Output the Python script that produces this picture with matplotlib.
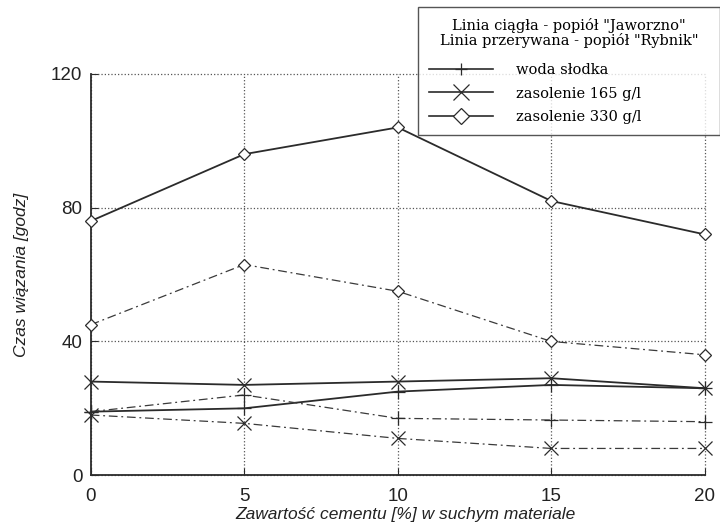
import matplotlib
matplotlib.use('Agg')
import matplotlib.pyplot as plt
from matplotlib.lines import Line2D

# cement content [%] in dry material
cement = [0, 5, 10, 15, 20]

# solid lines - ash "Jaworzno"
jaw_woda = [19, 20, 25, 27, 26]
jaw_165 = [28, 27, 28, 29, 26]
jaw_330 = [76, 96, 104, 82, 72]

# dash-dot lines - ash "Rybnik"
ryb_woda = [19, 24, 17, 16.5, 16]
ryb_165 = [18, 15.5, 11, 8, 8]
ryb_330 = [45, 63, 55, 40, 36]

series_labels = ['woda słodka', 'zasolenie 165 g/l', 'zasolenie 330 g/l']
legend_title = 'Linia ciągła - popiół "Jaworzno"\nLinia przerywana - popiół "Rybnik"'

ink = '#2b2b2b'
dashdot = (0, (7, 3, 1.5, 3))
markers = ['+', 'x', 'D']
msizes = [10, 10, 6.5]

plt.rcParams['font.family'] = ['Liberation Sans', 'DejaVu Sans']

fig = plt.figure(figsize=(7.2, 5.28), dpi=100, facecolor='white')
ax = fig.add_axes([0.126, 0.100, 0.853, 0.760])

solid = [jaw_woda, jaw_165, jaw_330]
dashed = [ryb_woda, ryb_165, ryb_330]
for vals, m, ms in zip(solid, markers, msizes):
    ax.plot(cement, vals, color=ink, lw=1.3, marker=m, ms=ms,
            mfc='white', mec=ink, mew=0.9, clip_on=False, zorder=3)
for vals, m, ms in zip(dashed, markers, msizes):
    ax.plot(cement, vals, color='#3a3a3a', lw=0.9, ls=dashdot, marker=m, ms=ms,
            mfc='white', mec=ink, mew=0.9, clip_on=False, zorder=3)

ax.set_xlim(0, 20)
ax.set_ylim(0, 120)
ax.set_xticks(cement)
ax.set_yticks([0, 40, 80, 120])
ax.grid(True, ls=':', color='#555555', lw=0.9)
for gl in ax.get_xgridlines() + ax.get_ygridlines():
    gl.set_clip_on(False)
ax.set_axisbelow(True)
for s in ['top', 'right']:
    ax.spines[s].set_visible(False)
for s in ['left', 'bottom']:
    ax.spines[s].set_color(ink)
    ax.spines[s].set_linewidth(1.3)
ax.tick_params(direction='in', length=5, color=ink, labelsize=13.5,
               labelcolor='#222222')
ax.tick_params(axis='x', pad=9)
ax.tick_params(axis='y', pad=6)

ax.set_xlabel('Zawartość cementu [%] w suchym materiale', fontsize=12.5,
              style='italic', color='#222222')
ax.xaxis.set_label_coords(0.513, -0.079)
ax.set_ylabel('Czas wiązania [godz]', fontsize=12.5, style='italic',
              color='#222222', labelpad=16)

handles = [Line2D([], [], color=ink, lw=1.2, marker=m, ms=ms, mfc='white',
                  mec=ink, mew=0.9) for m, ms in zip(markers, [9, 11, 8])]
leg = fig.legend(handles, series_labels, title=legend_title,
                 loc='upper right', bbox_to_anchor=(418 / 720, 0, 302 / 720, 0.987),
                 mode='expand',
                 frameon=True, fancybox=False, edgecolor=ink,
                 handlelength=4.4, handletextpad=1.6, labelspacing=0.65,
                 borderpad=0.75, borderaxespad=0.0,
                 prop={'family': 'DejaVu Serif', 'size': 10.5},
                 title_fontproperties={'family': 'DejaVu Serif', 'size': 10.5})
leg.get_frame().set_linewidth(1.0)
leg.get_title().set_multialignment('center')
leg.get_title().set_linespacing(1.0)
leg._legend_box.sep = 11
leg.set_zorder(5)

fig.savefig('out.png', dpi=100, facecolor='white')
